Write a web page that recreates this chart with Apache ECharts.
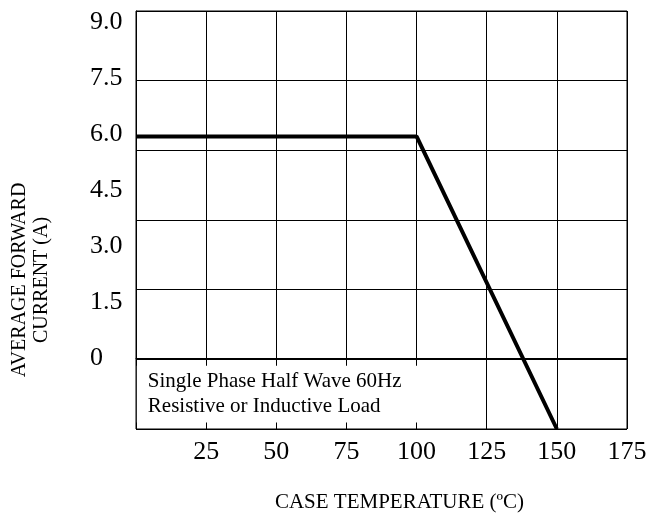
<!DOCTYPE html>
<html lang="en">

<head>
    <meta charset="UTF-8">
    <meta name="viewport" content="width=device-width, initial-scale=1.0">
    <title>Derating curve</title>
    <script src="https://cdn.jsdelivr.net/npm/echarts@6/dist/echarts.min.js"></script>
    <style>
        * {
            margin: 0;
            padding: 0;
        }

        #main {
            width: 652px;
            height: 521px;
            background-color: #fff;
        }
    </style>
</head>

<body>
    <div id="main"></div>
    <script>
        // curve
        var caseTemp = [0, 100, 150];
        var avgCurrent = [6.3, 6.3, 0];
        // tick labels
        var currentTicks = [0, 1.5, 3.0, 4.5, 6.0, 7.5, 9.0];
        var tempTicks = [25, 50, 75, 100, 125, 150, 175];
        var noteLines = ['Single Phase Half Wave 60Hz', 'Resistive or Inductive Load'];
        // white note box inside the plot (data units)
        var noteBoxX = [0.3, 100.8];
        var noteBoxY = [0.14, 1.36];

        var chartDom = document.getElementById('main');
        var myChart = echarts.init(chartDom);
        var option;

        var serif = 'Liberation Serif';
        var points = caseTemp.map(function (t, i) { return [t, avgCurrent[i]]; });

        option = {
            backgroundColor: '#fff',
            animation: false,
            grid: {
                left: 136,
                right: 25,
                top: 11,
                bottom: 92,
                show: true,
                borderColor: '#000',
                borderWidth: 1
            },
            xAxis: {
                type: 'value',
                min: 0,
                max: 175,
                interval: 25,
                name: 'CASE TEMPERATURE (ºC)',
                nameLocation: 'middle',
                nameGap: 63,
                nameTextStyle: {
                    fontFamily: serif,
                    fontSize: 21,
                    color: '#000',
                    padding: [0, 0, 0, 36]
                },
                axisLine: { show: true, lineStyle: { color: '#000', width: 1 } },
                axisTick: { show: false },
                splitLine: { show: true, lineStyle: { color: '#000', width: 1 } },
                axisLabel: {
                    showMinLabel: false,
                    margin: 10,
                    fontFamily: serif,
                    fontSize: 26,
                    color: '#000',
                    formatter: function (v) {
                        return tempTicks.indexOf(v) >= 0 ? String(v) : '';
                    }
                }
            },
            yAxis: [
                {
                    // label axis: the labels in the picture are not on the grid lines
                    type: 'value',
                    position: 'left',
                    min: -1.9,
                    max: 9.31,
                    name: 'AVERAGE FORWARD\nCURRENT (A)',
                    nameLocation: 'middle',
                    nameRotate: 90,
                    nameGap: 83,
                    nameTextStyle: {
                        fontFamily: serif,
                        fontSize: 20,
                        lineHeight: 22,
                        color: '#000',
                        align: 'center',
                        padding: [0, 120, 0, 0]
                    },
                    axisLine: { show: false },
                    axisTick: { show: false },
                    splitLine: { show: false },
                    axisLabel: {
                        customValues: currentTicks,
                        align: 'left',
                        margin: 46,
                        fontFamily: serif,
                        fontSize: 26,
                        color: '#000',
                        formatter: function (v) {
                            return v === 0 ? '0' : v.toFixed(1);
                        }
                    }
                },
                {
                    // grid axis
                    type: 'value',
                    position: 'left',
                    min: 0,
                    max: 9,
                    interval: 1.5,
                    axisLine: { show: true, lineStyle: { color: '#000', width: 1 } },
                    axisTick: { show: false },
                    axisLabel: { show: false },
                    splitLine: { show: true, lineStyle: { color: '#000', width: 1 } }
                }
            ],
            series: [
                {
                    type: 'line',
                    yAxisIndex: 1,
                    data: points,
                    symbol: 'none',
                    silent: true,
                    lineStyle: { color: '#000', width: 4 },
                    markArea: {
                        silent: true,
                        itemStyle: { color: '#fff' },
                        label: {
                            show: true,
                            position: 'insideLeft',
                            distance: 11,
                            fontFamily: serif,
                            fontSize: 21,
                            lineHeight: 25,
                            color: '#000',
                            align: 'left',
                            formatter: noteLines.join('\n')
                        },
                        data: [[
                            { xAxis: noteBoxX[0], yAxis: noteBoxY[0] },
                            { xAxis: noteBoxX[1], yAxis: noteBoxY[1] }
                        ]]
                    }
                }
            ]
        };

        option && myChart.setOption(option);
    </script>
</body>

</html>
